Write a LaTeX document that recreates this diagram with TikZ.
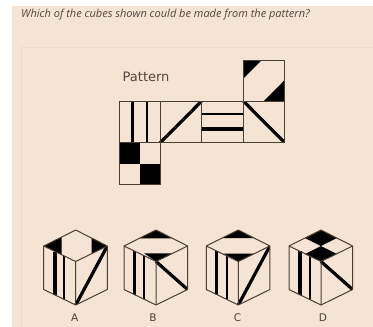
\documentclass[tikz,border=0pt]{standalone}
\usepackage{fontspec}
\setmainfont{Open Sans}
\newfontfamily\labelfont{DejaVu Sans}
\definecolor{paper}{HTML}{F5E3D3}
\definecolor{seam}{HTML}{EEDCCA}
\definecolor{ink}{HTML}{4A3F33}
\definecolor{wording}{HTML}{4F4740}
\tikzset{
  thin edge/.style={draw=ink,line width=1pt,line join=round},
  fat bar/.style={draw=black,line width=3.2pt},
  mid bar/.style={draw=black,line width=2pt},
  solid part/.style={fill=black},
  caption/.style={font=\labelfont\fontsize{10.5}{12}\selectfont,text=ink,inner sep=0pt},
}
\newcommand{\cubesil}{(0,0) -- (-32,16) -- (-32,59.5) -- (0,75) -- (31.6,59.5) -- (31.6,16) -- cycle}
\newcommand{\cubelines}{%
  \draw[thin edge] \cubesil;
  \draw[thin edge] (-32,16) -- (0,31.5) -- (31.6,16) (0,31.5) -- (0,75);
}
\begin{document}
\begin{tikzpicture}[x=1pt,y=-1pt]
\useasboundingbox (0,0) rectangle (373,327);
\fill[white] (0,0) rectangle (373,327);
\fill[paper] (12,6) rectangle (373,327);
\draw[seam,line width=0.7pt] (21,47) -- (373,47);
\draw[seam,line width=0.7pt] (21,47) -- (21,327);
\node[anchor=west,inner sep=0pt,text=wording,font=\itshape\fontsize{11}{13}\selectfont] (q) at (21,15) {Which of the cubes shown could be made from the pattern?};
\node[anchor=west,inner sep=0pt,text=wording,font=\labelfont\fontsize{13}{15}\selectfont] (pat) at (122.5,77) {Pattern};
% pattern
\fill[solid part] (243.3,60) -- (262,60) -- (243.3,78.5) -- cycle;
\fill[solid part] (284.7,80) -- (284.7,101) -- (264,101) -- cycle;
\fill[solid part] (119,142.7) rectangle (139.7,163.5);
\fill[solid part] (139.7,163.5) rectangle (160.3,184.3);
\begin{scope}
\clip (119,101) rectangle (284.7,142.7);
\draw[fat bar] (132.3,101) -- (132.3,142.7);
\draw[mid bar] (146.7,101) -- (146.7,142.7);
\draw[fat bar] (160.3,142.7) -- (201.7,101);
\draw[mid bar] (201.7,113.5) -- (243.3,113.5);
\draw[fat bar] (201.7,129) -- (243.3,129);
\draw[fat bar] (243.3,101) -- (284.7,142.7);
\end{scope}
\draw[thin edge] (119,101) rectangle (284.7,142.7);
\draw[thin edge] (160.3,101) -- (160.3,142.7) (201.7,101) -- (201.7,142.7) (243.3,101) -- (243.3,142.7);
\draw[thin edge] (243.3,60) rectangle (284.7,101);
\draw[thin edge] (119,142.7) rectangle (160.3,184.3);
% cube A
\begin{scope}[shift={(75.7,230)}]
\fill[solid part] (-32,16) -- (-14,7) -- (-14,24.5) -- cycle;
\fill[solid part] (16,8) -- (31.6,16) -- (16,23.5) -- cycle;
\begin{scope}
\clip \cubesil;
\draw[fat bar] (-20.7,21.5) -- (-20.7,64.5);
\draw[mid bar] (-11.4,26) -- (-11.4,69.5);
\draw[fat bar] (0,75) -- (31.6,16);
\end{scope}
\cubelines
\end{scope}
% cube B
\begin{scope}[shift={(156,230)}]
\fill[solid part] (-17,8.3) -- (0,0) -- (16,8.3) -- cycle;
\fill[solid part] (-12,23.3) -- (17,23.3) -- (0,31.5) -- cycle;
\begin{scope}
\clip \cubesil;
\draw[fat bar] (-21.3,21) -- (-21.3,64.5);
\draw[mid bar] (-12,26) -- (-12,69.5);
\draw[fat bar] (0,31.5) -- (31.6,59.5);
\end{scope}
\cubelines
\end{scope}
% cube C
\begin{scope}[shift={(238.3,230)}]
\fill[solid part] (-16,8) -- (0,0) -- (16,8) -- cycle;
\fill[solid part] (-15,23.5) -- (17,23.5) -- (0,31.5) -- cycle;
\begin{scope}
\clip \cubesil;
\draw[fat bar] (-21.6,21) -- (-21.6,64.5);
\draw[mid bar] (-11.6,26) -- (-11.6,69.5);
\draw[fat bar] (0,75) -- (31.6,16);
\end{scope}
\cubelines
\end{scope}
% cube D
\begin{scope}[shift={(321,230)}]
\fill[solid part] (0,0) -- (15.8,8) -- (0,16) -- (-16,8) -- cycle;
\fill[solid part] (0,16) -- (15.8,24) -- (0,31.5) -- (-16,24) -- cycle;
\begin{scope}
\clip \cubesil;
\draw[fat bar] (-21,21) -- (-21,64.5);
\draw[mid bar] (-11,26) -- (-11,69.5);
\draw[fat bar] (0,31.5) -- (31.6,59.5);
\end{scope}
\cubelines
\end{scope}
\node[caption] (la) at (74.7,318) {A};
\node[caption] (lb) at (153,318) {B};
\node[caption] (lc) at (237.5,318) {C};
\node[caption] (ld) at (323,318) {D};
\end{tikzpicture}
\end{document}
